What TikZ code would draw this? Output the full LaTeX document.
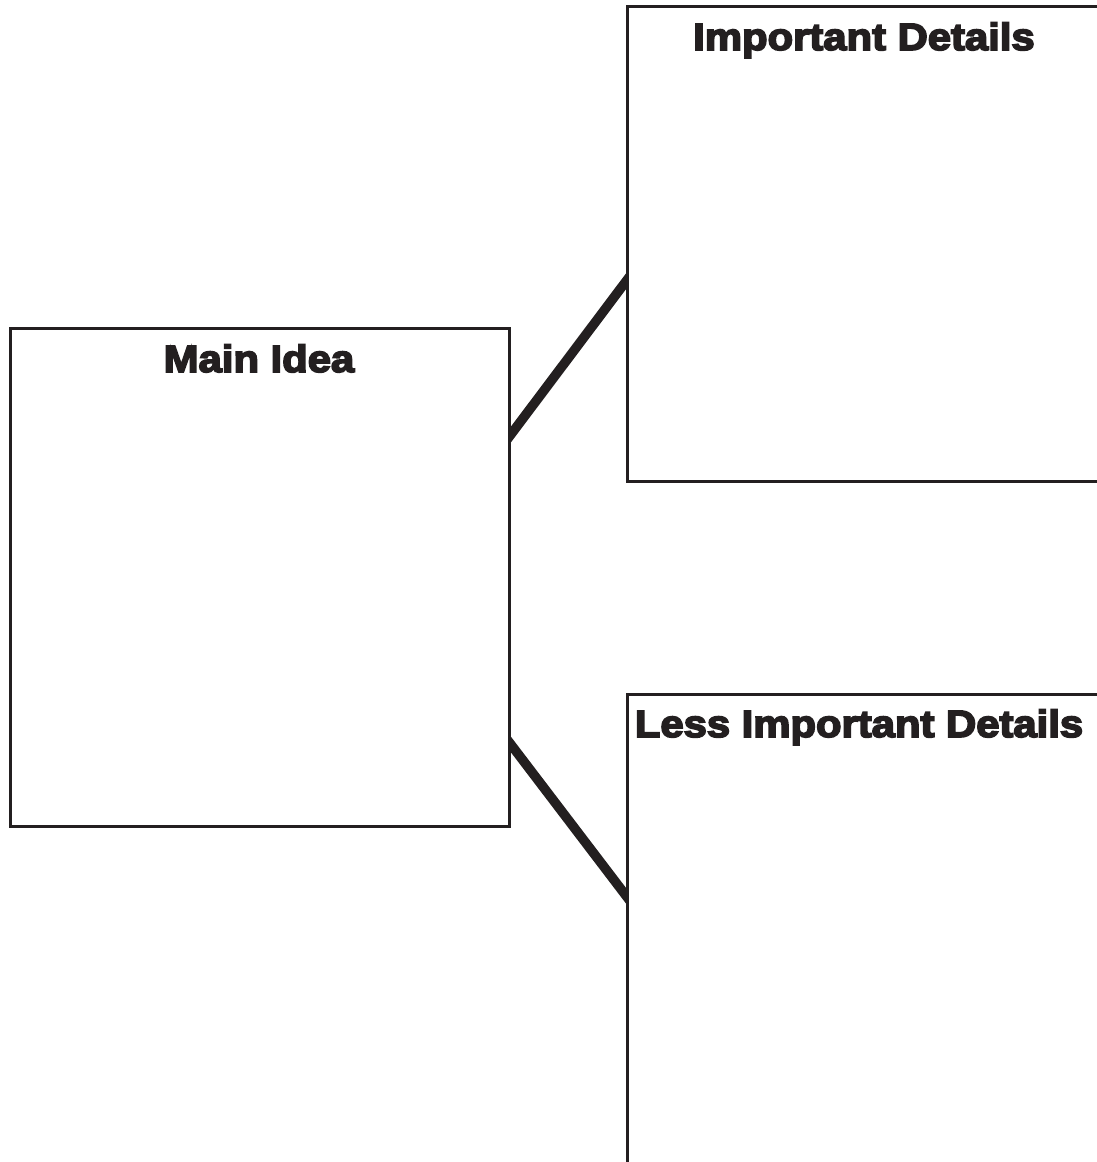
\documentclass[tikz,border=0pt]{standalone}
\usepackage{fontspec}
\newfontfamily\headfont[FakeStretch=1.1,FakeBold=4.5]{Liberation Sans Bold}
\definecolor{ink}{HTML}{231F20}
\usetikzlibrary{calc}
\pgfdeclarelayer{bg}
\pgfsetlayers{bg,main}
\tikzset{
  box/.style={draw=ink, line width=3pt, fill=white, rectangle, inner sep=0pt, outer sep=0pt},
  title/.style={anchor=base, inner sep=0pt, text=ink, font=\headfont\fontsize{38}{45}\selectfont},
  conn/.style={draw=ink, line width=9.5pt, shorten <=-12pt, shorten >=-12pt}
}
\begin{document}
\begin{tikzpicture}[x=1pt,y=-1pt]
\useasboundingbox (0,0) rectangle (1096,1162);
\node[box, minimum width=499pt, minimum height=498pt] (main) at (259.5,577) {};
\node[box, minimum width=471pt, minimum height=475pt] (imp) at (862.5,243.5) {};
\node[box, minimum width=471pt, minimum height=476pt] (less) at (862.5,932) {};
\node[title] (tmain) at (259,372) {Main Idea};
\node[title] (timp) at (864,50) {Important Details};
\node[title] (tless) at (859,737) {Less Important Details};
\begin{pgfonlayer}{bg}
\draw[conn] ($(main.north east)+(0,109)$) -- ($(imp.north west)+(0,274)$);
\draw[conn] ($(main.north east)+(0,414)$) -- ($(less.north west)+(0,203)$);
\end{pgfonlayer}
\end{tikzpicture}
\end{document}
